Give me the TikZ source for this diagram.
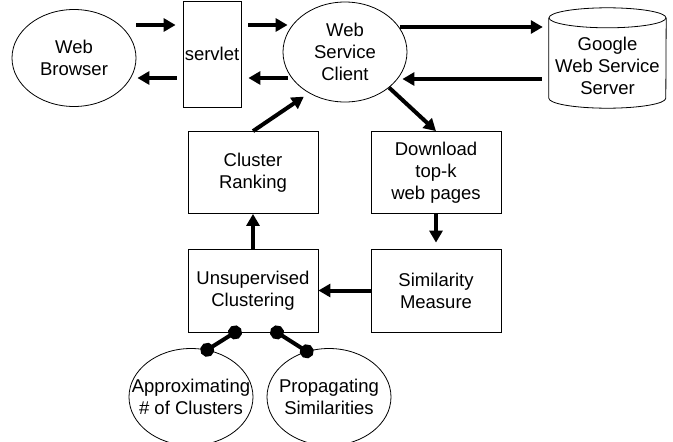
\documentclass[tikz,border=0pt]{standalone}
\usepackage{fontspec}
\setmainfont{Liberation Sans}
\usetikzlibrary{arrows.meta,shapes.geometric}
\begin{document}
\begin{tikzpicture}[
    x=1pt, y=-1pt,
    every node/.style={font=\fontsize{18.5}{22}\selectfont, align=center},
    blob/.style={ellipse, draw, line width=0.8pt, inner sep=0pt, minimum width=124, minimum height=97},
    box/.style={rectangle, draw, line width=0.8pt, minimum width=130, minimum height=82},
    arrow/.style={-{Triangle[length=12pt,width=13pt]}, line width=4pt},
    dotline/.style={{Circle[length=14pt]}-{Circle[length=14pt]}, line width=4pt, shorten <=-7pt, shorten >=-7pt}
]
    \useasboundingbox (0,0) rectangle (673,442);

    % Front end
    \node[blob] (browser) at (74,58) {Web\\Browser};
    \node[rectangle, draw, line width=0.8pt, inner sep=0.5pt, minimum width=58, minimum height=106] (servlet) at (212,54) {servlet};
    \node[blob, minimum height=100] (client) at (345,52) {Web\\Service\\Client};

    % Google server (cylinder)
    \node[minimum width=117, minimum height=84] (google) at (607.5,66) {Google\\Web Service\\Server};
    \draw[line width=0.8pt] ([shift={(0,-6)}]google.north) ellipse [x radius=58.5, y radius=10];
    \draw[line width=0.8pt] ([shift={(0,-6)}]google.north west) -- ([shift={(0,-10)}]google.south west)
        arc [start angle=180, end angle=0, x radius=58.5, y radius=10] -- ([shift={(0,-6)}]google.north east);

    % Processing steps
    \node[box] (ranking) at (253,172.5) {Cluster\\Ranking};
    \node[box] (download) at (436,172.5) {Download\\top-k\\web pages};
    \node[box, minimum height=83] (unsup) at (253,290.5) {Unsupervised\\Clustering};
    \node[box, minimum height=83] (similarity) at (436,290.5) {Similarity\\Measure};

    % Sub-methods
    \node[blob, label={center:Approximating\\\# of Clusters}] (approx) at (191,397) {};
    \node[blob, label={center:Propagating\\Similarities}] (propag) at (329,397) {};

    % Arrows
    \draw[arrow] ([shift={(0,-33)}]browser.east) -- ([shift={(-7,-29)}]servlet.west);
    \draw[arrow] ([shift={(-6,24)}]servlet.west) -- ([shift={(1,20)}]browser.east);
    \draw[arrow] ([shift={(7,-29)}]servlet.east) -- ([shift={(5,-27)}]client.west);
    \draw[arrow] ([shift={(5,26)}]client.west) -- ([shift={(7,24)}]servlet.east);
    \draw[arrow] ([shift={(-7,-25)}]client.east) -- ([shift={(-6,-39)}]google.west);
    \draw[arrow] ([shift={(-7,13)}]google.west) -- ([shift={(-5,27)}]client.east);

    \draw[arrow] (client.south east) -- (download.north);
    \draw[arrow] (download.south) -- ([shift={(0,-6)}]similarity.north);
    \draw[arrow] (similarity.west) -- (unsup.east);
    \draw[arrow] (unsup.north) -- (ranking.south);
    \draw[arrow] (ranking.north) -- ([shift={(3,9)}]client.south west);

    \draw[dotline] ([shift={(-18,0)}]unsup.south) -- (approx.71);
    \draw[dotline] ([shift={(24,0)}]unsup.south) -- (propag.116);

\end{tikzpicture}
\end{document}
